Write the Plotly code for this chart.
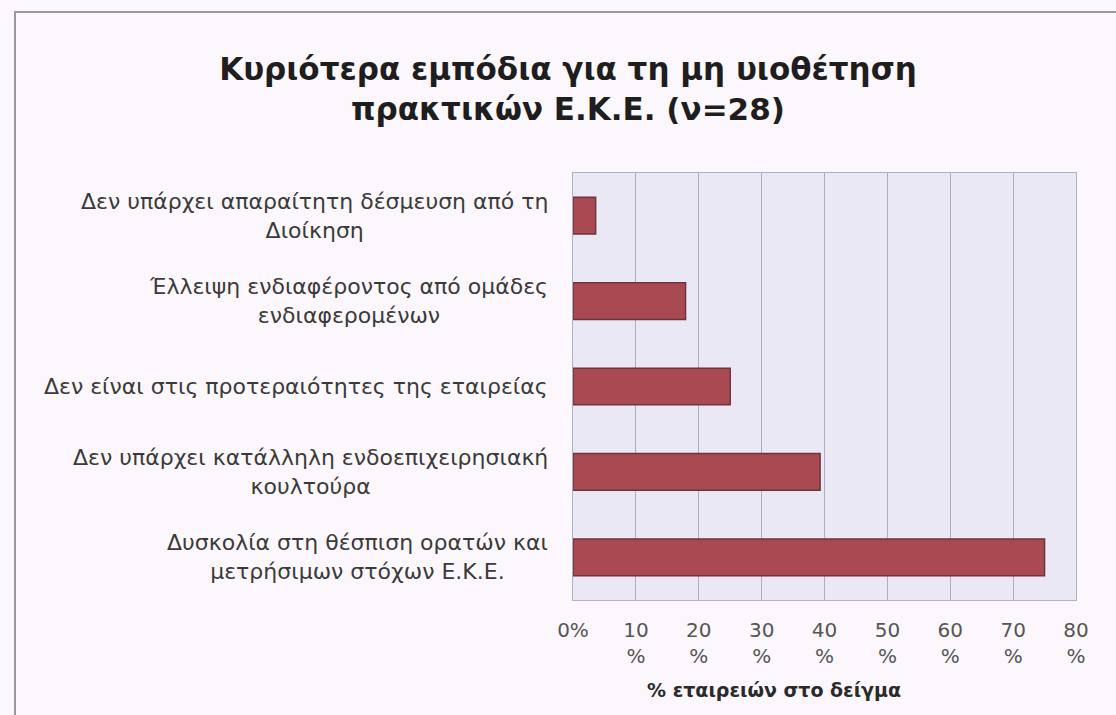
import plotly.graph_objects as go

categories = [
    "Δυσκολία στη θέσπιση ορατών και<br>μετρήσιμων στόχων Ε.Κ.Ε.",
    "Δεν υπάρχει κατάλληλη ενδοεπιχειρησιακή<br>κουλτούρα",
    "Δεν είναι στις προτεραιότητες της εταιρείας",
    "Έλλειψη ενδιαφέροντος από ομάδες<br>ενδιαφερομένων",
    "Δεν υπάρχει απαραίτητη δέσμευση από τη<br>Διοίκηση",
]
values = [75.0, 39.3, 25.0, 17.9, 3.6]
tick_vals = [0, 10, 20, 30, 40, 50, 60, 70, 80]
tick_text = ["0%", "10<br>%", "20<br>%", "30<br>%", "40<br>%", "50<br>%", "60<br>%", "70<br>%", "80<br>%"]
x_title = "% εταιρειών στο δείγμα"

W, H = 1116, 715
ml, mr, mt, mb = 573, 40, 173, 115
pw, ph = W - ml - mr, H - mt - mb

def px_x(x):
    return (x - ml) / pw

def px_y(y):
    return (H - mb - y) / ph

FONT = "DejaVu Sans, Verdana, sans-serif"

fig = go.Figure(go.Bar(
    x=values, y=categories, orientation="h",
    marker=dict(color="#a94a52", line=dict(color="#6e343c", width=1.5)),
    width=0.43,
))

annotations = []
for c in categories:
    annotations.append(dict(
        x=px_x(550), xref="paper", y=c, yref="y", text=c, showarrow=False,
        xanchor="right", yanchor="middle", align="center",
        font=dict(family=FONT, size=22, color="#3a3a3a"),
    ))
annotations.append(dict(
    x=px_x(774), xref="paper", y=px_y(690), yref="paper", text="<b>" + x_title + "</b>",
    showarrow=False, xanchor="center", yanchor="middle",
    font=dict(family=FONT, size=19, color="#2a2a2a"),
))

fig.update_layout(
    width=W, height=H,
    margin=dict(l=ml, r=mr, t=mt, b=mb),
    paper_bgcolor="#fcf7fc",
    plot_bgcolor="#e9e8f4",
    title=dict(
        text="<b>Κυριότερα εμπόδια για τη μη υιοθέτηση<br>πρακτικών Ε.Κ.Ε. (ν=28)</b>",
        x=568 / W, xref="container", xanchor="center", y=1 - 80 / H, yanchor="middle",
        font=dict(family=FONT, size=31, color="#1e1e1e"),
    ),
    xaxis=dict(
        range=[0, 80], tickvals=tick_vals, ticktext=tick_text,
        showgrid=True, gridcolor="#adadc2", gridwidth=1,
        zeroline=False, showline=True, linecolor="#b0b0c0", mirror=True,
        ticklabelstandoff=12,
        tickfont=dict(family=FONT, size=20, color="#555555"),
    ),
    yaxis=dict(
        showticklabels=False, showgrid=False, showline=True, linecolor="#b0b0c0", mirror=True,
        range=[-0.5, 4.5],
    ),
    annotations=annotations,
    showlegend=False,
    bargap=0.57,
    shapes=[
        dict(type="line", xref="paper", yref="paper", x0=px_x(14), x1=px_x(1116), y0=px_y(12), y1=px_y(12),
             line=dict(color="#9a98a0", width=2)),
        dict(type="line", xref="paper", yref="paper", x0=px_x(15), x1=px_x(15), y0=px_y(12), y1=px_y(715),
             line=dict(color="#9a98a0", width=2)),
    ],
)

fig.write_html("out.html")
